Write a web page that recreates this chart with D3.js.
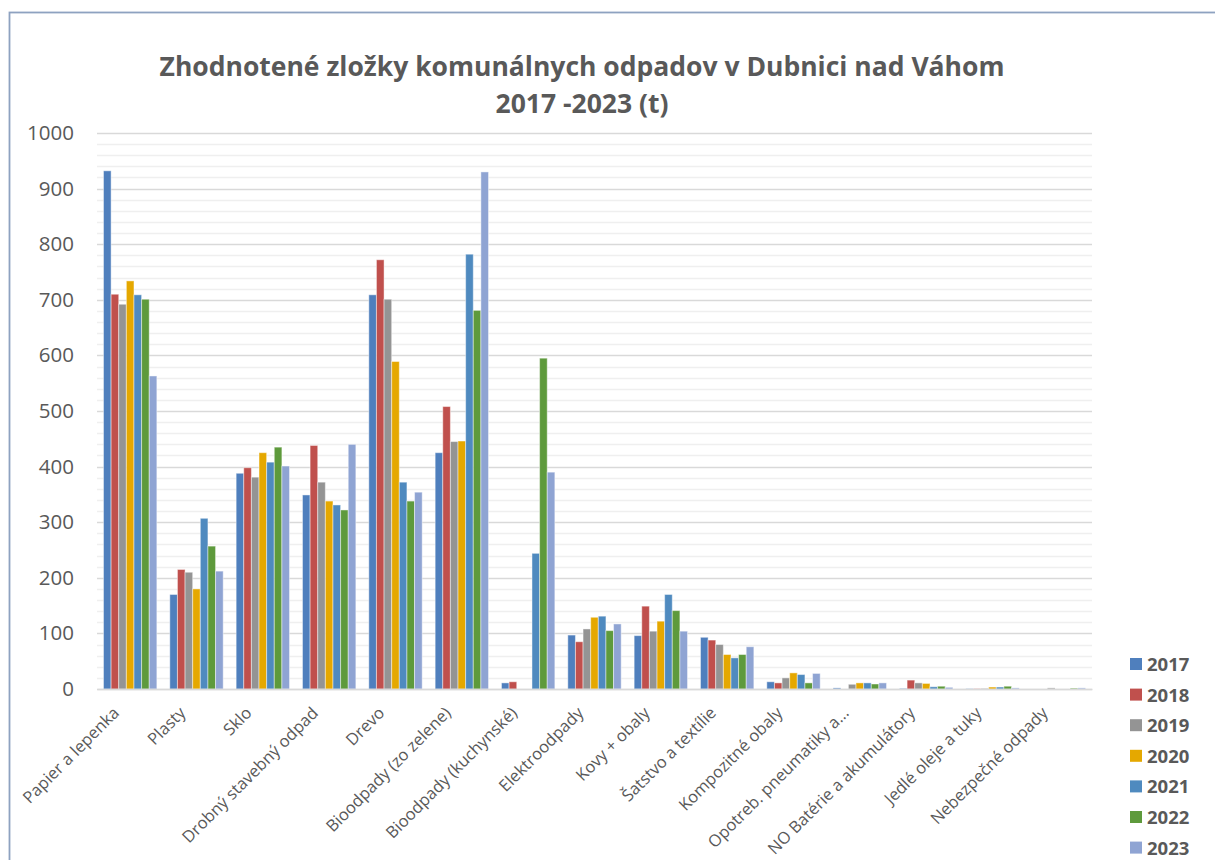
<!DOCTYPE html>
<html>
<head>
<meta charset="utf-8">
<style>
  body{margin:0;background:#fff}
  svg text{font-family:"Open Sans","Noto Sans",sans-serif;fill:#595959}
  .grid-minor line{stroke:#efefef;stroke-width:1.5px}
  .grid-major line{stroke:#d9d9d9;stroke-width:1.5px}
  .bars rect{stroke:#fff;stroke-opacity:.45;stroke-width:1px}
</style>
</head>
<body>
<div id="chart"></div>
<script src="https://d3js.org/d3.v7.min.js"></script>
<script>
var categories = ['Papier a lepenka','Plasty','Sklo','Drobný stavebný odpad','Drevo',
  'Bioodpady (zo zelene)','Bioodpady (kuchynské)','Elektroodpady','Kovy + obaly',
  'Šatstvo a textílie','Kompozitné obaly','Opotreb. pneumatiky a...',
  'NO Batérie a akumulátory','Jedlé oleje a tuky','Nebezpečné odpady'];

var years = ['2017','2018','2019','2020','2021','2022','2023'];
var colors = ['#4F7FBD','#C0504D','#949494','#E5A800','#4F8ABF','#5E9A3C','#8FA4D3'];

var v2017 = [932, 170, 388, 349, 709, 425, 11,  97,  96, 93, 13, 2,  1, 0.5, 0];
var v2018 = [710, 215, 398, 438, 772, 508, 13,  85, 149, 88, 11, 0, 16, 0.5, 0];
var v2019 = [692, 210, 381, 372, 701, 445,  0, 108, 104, 80, 20, 8.5, 11, 1, 2];
var v2020 = [734, 180, 425, 338, 589, 446,  0, 129, 122, 62, 29, 11, 10, 3.5, 0];
var v2021 = [709, 307, 408, 331, 372, 782, 244, 131, 170, 56, 26, 11,  4, 3.5, 0];
var v2022 = [701, 257, 435, 322, 338, 681, 595, 105, 141, 62, 11,  9,  5, 5, 1.5];
var v2023 = [563, 212, 401, 440, 354, 930, 390, 117, 104, 76, 28, 11,  3, 2, 2];
var series = [v2017, v2018, v2019, v2020, v2021, v2022, v2023];

var yTicks = [0,100,200,300,400,500,600,700,800,900,1000];

(function () {

  var
    width  = 1215,
    height = 860,
    pLeft  = 97,
    pRight = 1092,
    pTop   = 133,
    pBot   = 689;

  var svg = d3.select('#chart').append('svg')
    .attr('width', width).attr('height', height);

  // chart frame
  svg.append('rect')
    .attr('x', 9.5).attr('y', 12.5)
    .attr('width', width + 20).attr('height', height + 20)
    .attr('fill', 'none').attr('stroke', '#8EA2C0').attr('stroke-width', 1.8);

  var x  = d3.scaleBand().domain(categories).range([pLeft, pRight]);
  var xi = d3.scaleBand().domain(years).range([0, x.bandwidth()]).paddingOuter(0.85);
  var y  = d3.scaleLinear().domain([0, 1000]).range([pBot, pTop]);

  // gridlines
  svg.append('g').attr('class', 'grid-minor')
    .selectAll('line').data(d3.range(20, 1000, 20).filter(function (d) { return d % 100 !== 0; }))
    .join('line')
    .attr('x1', pLeft).attr('x2', pRight)
    .attr('y1', function (d) { return Math.round(y(d)) + 0.5; })
    .attr('y2', function (d) { return Math.round(y(d)) + 0.5; });

  svg.append('g').attr('class', 'grid-major')
    .selectAll('line').data(yTicks)
    .join('line')
    .attr('x1', pLeft).attr('x2', pRight)
    .attr('y1', function (d) { return Math.round(y(d)) + 0.5; })
    .attr('y2', function (d) { return Math.round(y(d)) + 0.5; });

  // y axis labels
  var yAxis = d3.axisLeft(y).tickValues(yTicks).tickSize(0).tickPadding(23).tickFormat(d3.format('d'));
  var gy = svg.append('g').attr('transform', 'translate(' + pLeft + ',0)').call(yAxis);
  gy.select('.domain').remove();
  gy.selectAll('text').style('font-size', '20.5px').attr('fill', '#595959')
    .style('font-family', '"Open Sans",sans-serif');

  // bars
  var groups = svg.append('g').attr('class', 'bars')
    .selectAll('g').data(categories).join('g')
    .attr('transform', function (d) { return 'translate(' + x(d) + ',0)'; });

  groups.selectAll('rect')
    .data(function (c, ci) {
      return years.map(function (yr, si) { return {year: yr, si: si, v: series[si][ci]}; });
    })
    .join('rect')
    .attr('x', function (d) { return xi(d.year); })
    .attr('width', xi.bandwidth())
    .attr('y', function (d) { return y(d.v); })
    .attr('height', function (d) { return y(0) - y(d.v); })
    .attr('fill', function (d) { return colors[d.si]; });

  // x axis
  var xAxis = d3.axisBottom(x).tickSize(0).tickPadding(0);
  var gx = svg.append('g').attr('transform', 'translate(0,' + pBot + ')').call(xAxis);
  gx.select('.domain').attr('stroke', '#d9d9d9').attr('stroke-width', 1.5);
  gx.selectAll('text')
    .style('font-size', '16.5px')
    .style('font-family', '"Open Sans",sans-serif')
    .attr('fill', '#595959')
    .attr('text-anchor', 'end')
    .attr('y', 0)
    .attr('dy', 0)
    .attr('transform', 'translate(-10,25) rotate(-45)');

  // title
  var title = svg.append('text')
    .attr('text-anchor', 'middle')
    .style('font-size', '26.5px').style('font-weight', 'bold');
  title.append('tspan').attr('x', 582).attr('y', 76).text('Zhodnotené zložky komunálnych odpadov v Dubnici nad Váhom');
  title.append('tspan').attr('x', 582).attr('y', 113).text('2017 -2023 (t)');

  // legend
  var legend = svg.append('g').selectAll('g').data(years).join('g')
    .attr('transform', function (d, i) { return 'translate(1130,' + (658 + i * 30.6) + ')'; });
  legend.append('rect').attr('width', 12).attr('height', 12)
    .attr('fill', function (d, i) { return colors[i]; });
  legend.append('text').attr('x', 17).attr('y', 13)
    .style('font-size', '18.5px').style('font-weight', 'bold')
    .text(function (d) { return d; });

})();
</script>
</body>
</html>
